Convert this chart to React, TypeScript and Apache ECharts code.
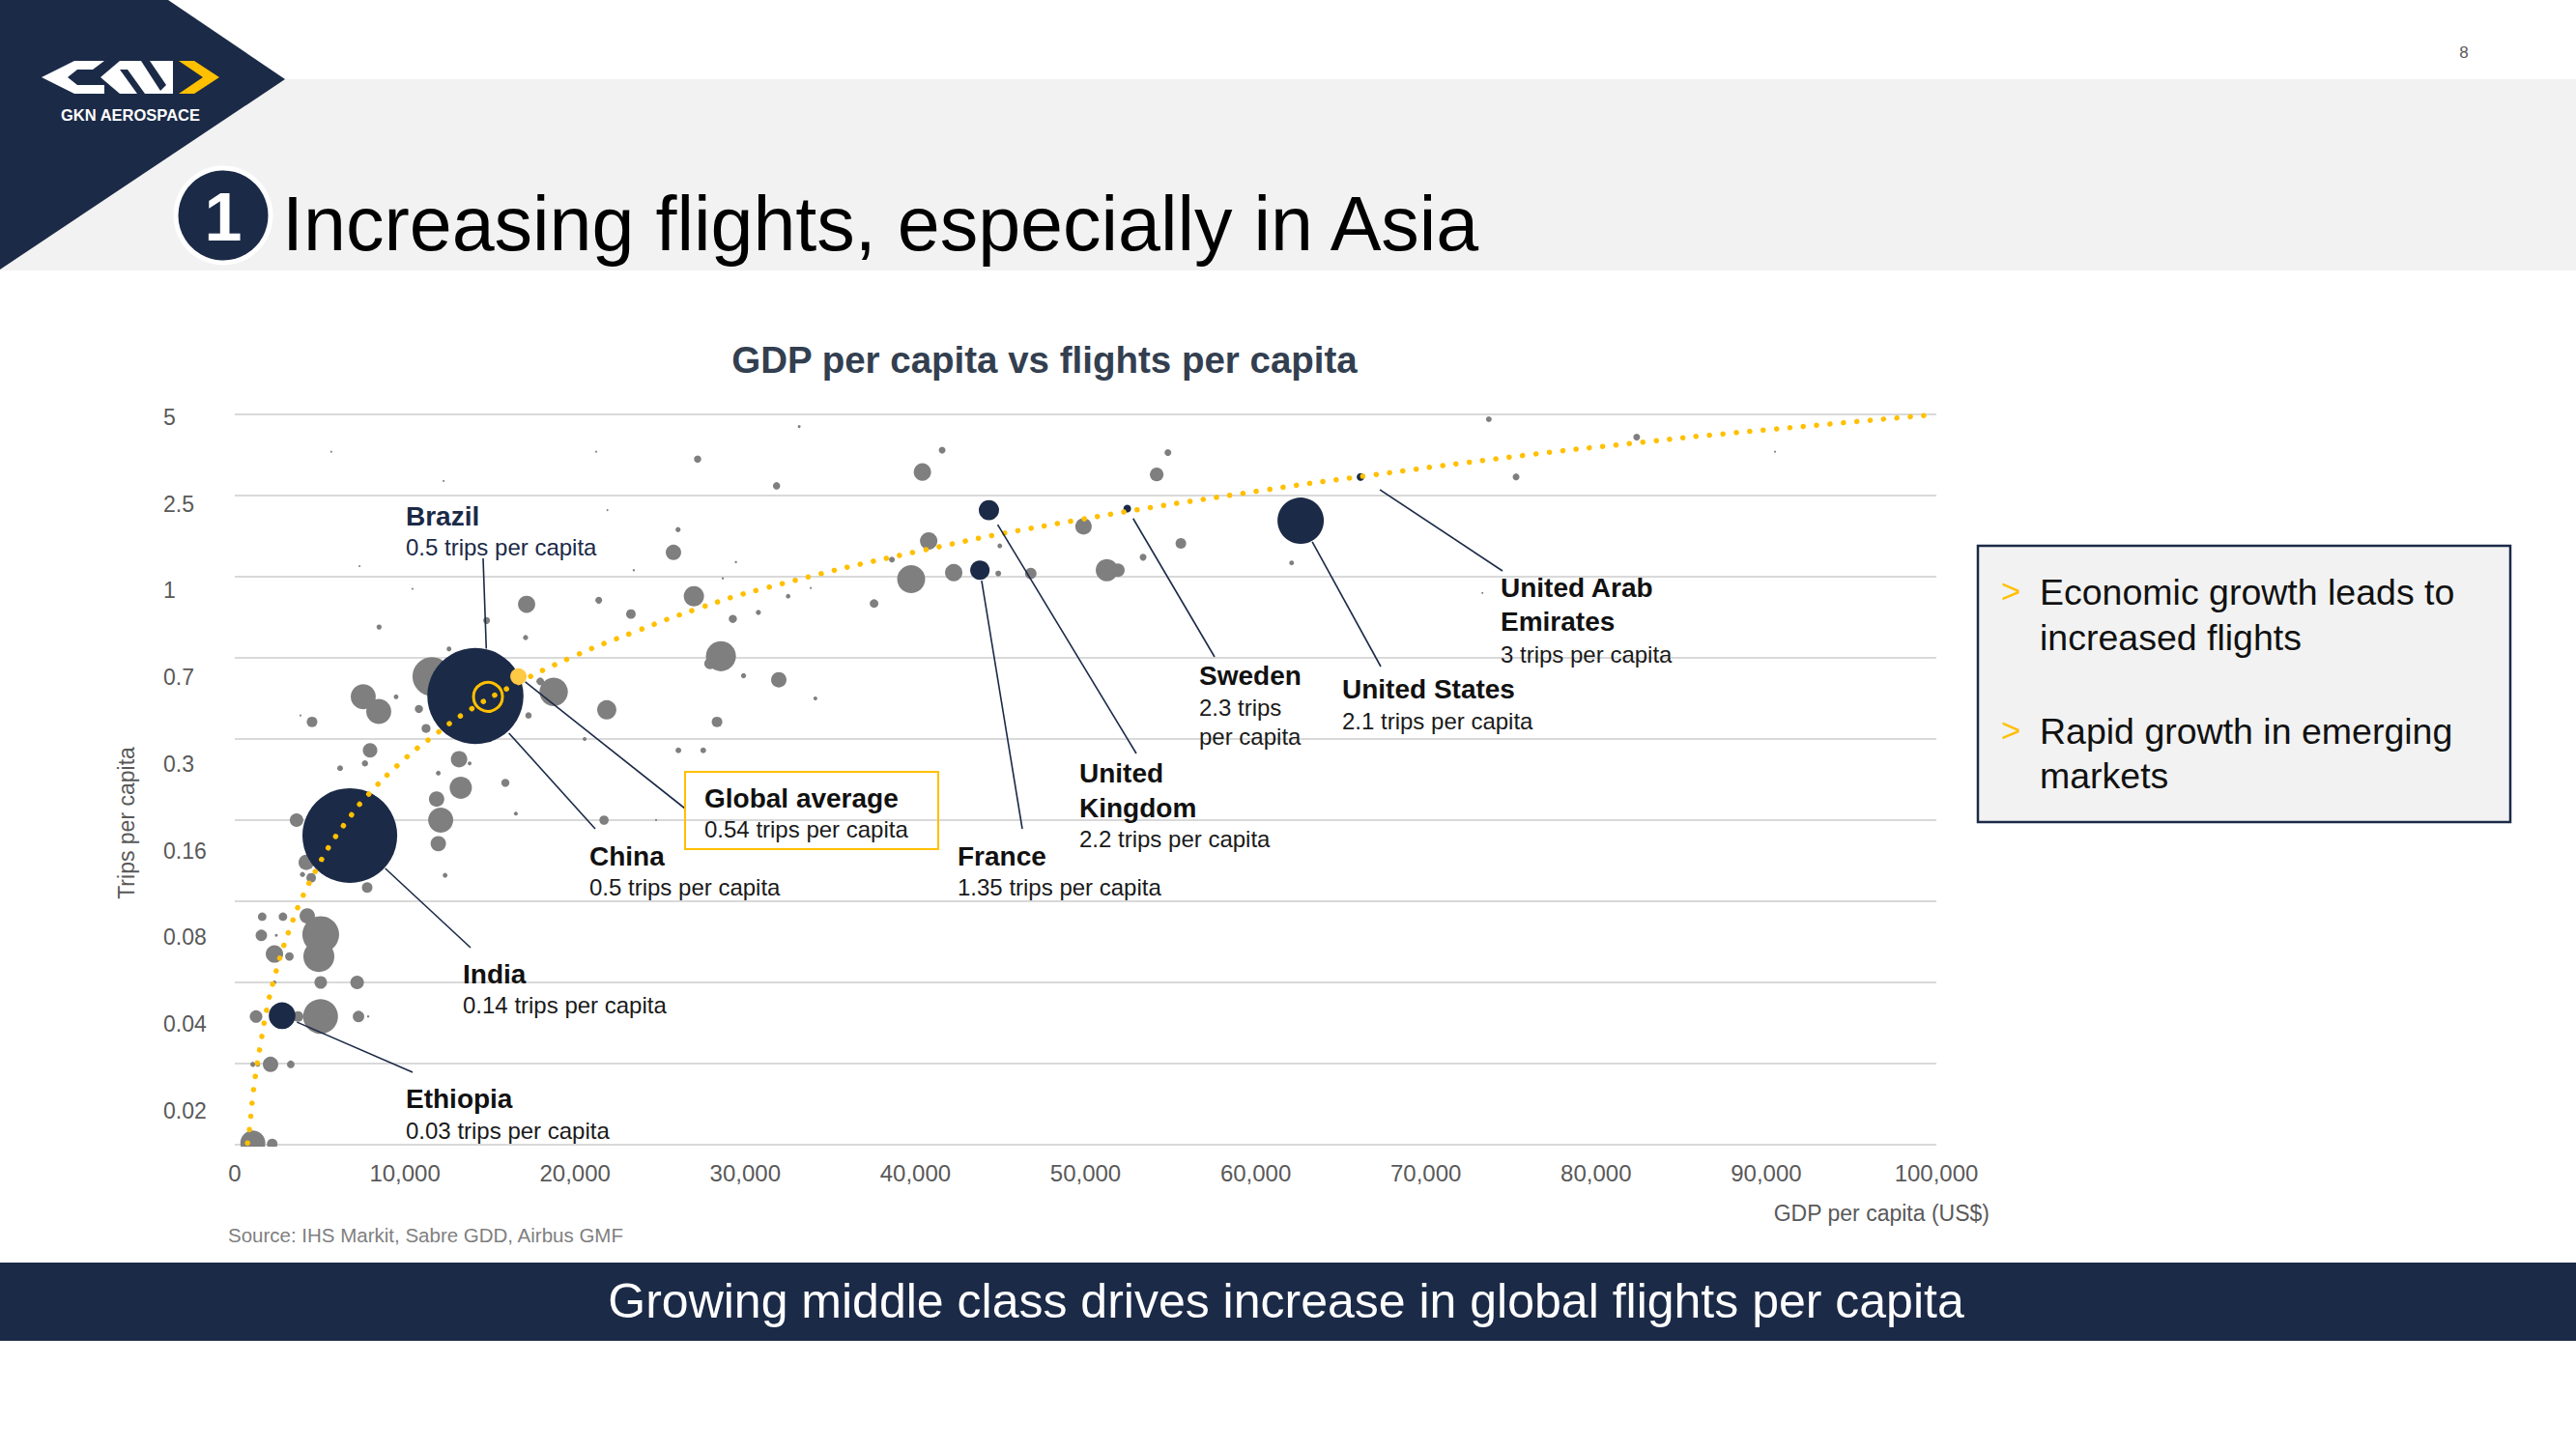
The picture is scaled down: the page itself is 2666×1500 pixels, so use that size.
import React, { useEffect, useRef } from 'react';
import * as echarts from 'echarts';

const FONT = '"Liberation Sans", Arial, Helvetica, sans-serif';
const NAVY = '#1b2a47';
const GRAY = '#7f7f7f';
const YELLOW = '#ffc000';
const AXIS_TEXT = '#595959';

// ---- axes ----
const xTickValues = [0, 10000, 20000, 30000, 40000, 50000, 60000, 70000, 80000, 90000, 100000];
// tick labels of the (non-linear) trips-per-capita scale, bottom to top
const yTickLabels = ['0.02', '0.04', '0.08', '0.16', '0.3', '0.7', '1', '2.5', '5'];

// ---- other countries (grey bubbles): GDP per capita, position on trips scale (gridline units), population (m) ----
const otherGdp = [
  5670, 21240, 12270, 27200, 31840, 33170, 21900, 26050, 25780, 29450,
  23450, 7330, 28680, 26980, 21390, 17150, 23280, 32520, 30770, 29270,
  14800, 8480, 17090, 28570, 27930, 29900, 31970, 34120, 11580, 18740,
  17950, 7550, 8460, 9480, 4540, 10820, 12590, 17260, 21860, 28340,
  20560, 11240, 7950, 13180, 13800, 26070, 27530, 6190, 7650, 11960,
  13280, 15900, 11860, 12100, 11960, 16520, 21700, 24760, 3630, 3860,
  10440, 4200, 3980, 4490, 7780, 12360, 1610, 2830, 4260, 5050,
  4940, 1560, 2440, 2330, 3210, 5050, 7190, 2330, 1250, 3720,
  5040, 7270, 7840, 1060, 1350, 2100, 3290, 1060, 2200, 41570,
  40410, 54840, 54180, 73700, 75300, 49880, 40780, 44960, 38620, 55600,
  53380, 39750, 42250, 44870, 46780, 51250, 51900, 62110, 33850, 37570,
  82390, 90520, 73320,
];
const otherLevel = [
  8.54, 8.54, 8.18, 8.45, 8.12, 8.85, 7.82, 7.58, 7.30, 7.18,
  7.08, 7.13, 6.98, 6.76, 6.71, 6.66, 6.54, 6.76, 6.56, 6.48,
  6.46, 6.38, 6.25, 6.02, 5.93, 5.78, 5.73, 5.50, 5.77, 5.58,
  5.71, 5.52, 5.34, 5.52, 5.21, 5.37, 6.11, 5.29, 5.36, 5.21,
  5.00, 5.13, 4.86, 4.75, 4.70, 4.86, 4.86, 4.64, 4.70, 4.58,
  4.40, 4.46, 4.26, 4.00, 3.71, 4.08, 4.00, 4.00, 4.00, 5.29,
  6.85, 3.48, 3.33, 3.29, 3.17, 3.32, 2.81, 2.81, 2.82, 2.59,
  2.32, 2.58, 2.58, 2.35, 2.32, 2.00, 2.00, 2.00, 1.58, 1.58,
  1.58, 1.58, 1.58, 0.99, 0.99, 0.99, 0.99, 0.02, 0.01, 8.56,
  8.29, 8.53, 8.26, 8.94, 8.23, 7.62, 7.44, 7.38, 7.21, 7.41,
  7.24, 6.97, 7.05, 7.04, 7.04, 7.08, 7.08, 7.17, 6.86, 6.67,
  8.72, 8.54, 6.80,
];
const otherPop = [
  0.6, 0.6, 0.6, 8, 8, 1.3, 0.6, 4, 36, 0.8,
  0.8, 0.6, 0.8, 62, 7, 45, 14, 3, 4, 10,
  7, 4, 4, 137, 20, 4, 36, 2.3, 226, 122,
  9, 95, 95, 3.5, 17, 10, 3.5, 6, 56, 17,
  2.3, 12, 32, 41, 2.3, 5, 5, 5, 6, 3.5,
  75, 10, 36, 95, 36, 2.3, 13, 0.6, 28, 0.6,
  0.6, 36, 4, 14, 17, 3.5, 11, 11, 36, 204,
  145, 20, 1.3, 46, 11, 24, 28, 2.3, 24, 17,
  183, 20, 0.8, 4, 3.5, 36, 9, 95, 17, 7,
  46, 7, 28, 5, 7, 41, 46, 3.5, 5, 17,
  7, 119, 46, 5, 20, 75, 28, 3.5, 0.6, 11,
  7, 0.6, 0.6,
];

// ---- highlighted countries ----
const focusCountries = ['Ethiopia', 'India', 'China', 'France', 'United Kingdom', 'Sweden', 'United States', 'United Arab Emirates'];
const focusGdp = [2780, 6760, 14140, 43790, 44320, 52450, 62640, 66160];
const focusLevel = [1.59, 3.81, 5.53, 7.08, 7.82, 7.84, 7.69, 8.23];
const focusPop = [108, 1360, 1400, 57, 62, 9, 325, 9];

const brazilPoint = [14880, 5.52];
const globalPoint = [16670, 5.77];

// ---- trend line ----
const trendGdp = [750, 850, 1060, 1250, 1560, 1930, 2330, 2780, 3300, 3840, 4860, 5680, 6630, 7650, 9800, 11630, 13600, 16270, 19820, 23490, 27250, 31000, 40320, 49580, 60590, 66390, 75960, 82390, 86950, 100000];
const trendLevel = [0.02, 0.17, 0.6, 0.9, 1.3, 1.72, 2.06, 2.39, 2.7, 2.99, 3.42, 3.72, 4.0, 4.27, 4.72, 5.03, 5.33, 5.65, 6.01, 6.32, 6.61, 6.85, 7.32, 7.7, 8.07, 8.24, 8.5, 8.65, 8.75, 9.0];

const radiusOf = (pop: number) => Math.max(1, 1.33 * Math.sqrt(pop));
const fmtThousands = (v: number) => String(v).replace(/\B(?=(\d{3})+(?!\d))/g, ',');

type Row = [string, boolean, number];
type Ann = { pt: number[]; gap: number; end: [number, number]; x: number; rows: Row[]; color: string; box?: [number, number, number, number] };

const txt = (x: number, y: number, text: string, font: string, fill: string, align = 'left', extra: any = {}) => ({
  type: 'text',
  x,
  y,
  ...extra,
  style: { text, font, fill, align, verticalAlign: 'middle', textAlign: align, textVerticalAlign: 'middle' },
});

export default function App() {
  const ref = useRef<HTMLDivElement>(null);

  useEffect(() => {
    const chart = echarts.init(ref.current!, null, { renderer: 'svg', width: 2666, height: 1500 });

    const option: any = {
      animation: false,
      backgroundColor: '#ffffff',
      grid: { left: 243, right: 662, top: 429, bottom: 315, containLabel: false },
      xAxis: {
        type: 'value',
        min: xTickValues[0],
        max: xTickValues[xTickValues.length - 1],
        interval: 10000,
        axisLine: { show: false },
        axisTick: { show: false },
        splitLine: { show: false },
        axisLabel: { color: AXIS_TEXT, fontSize: 24, fontFamily: FONT, margin: 17, formatter: (v: number) => fmtThousands(v) },
      },
      yAxis: [
        {
          type: 'value',
          min: 0,
          max: 9,
          interval: 1,
          axisLine: { show: false },
          axisTick: { show: false },
          axisLabel: { show: false },
          splitLine: { show: true, lineStyle: { color: '#d9d9d9', width: 2 } },
        },
        {
          type: 'value',
          position: 'left',
          min: -0.39,
          max: 8.033,
          axisLine: { show: false },
          axisTick: { show: false },
          splitLine: { show: false },
          axisLabel: {
            customValues: yTickLabels.map((_, i) => i),
            formatter: (v: number) => {
              const i = Math.round(v);
              return Math.abs(v - i) < 1e-6 && yTickLabels[i] !== undefined ? yTickLabels[i] : '';
            },
            align: 'left',
            margin: 74,
            color: AXIS_TEXT,
            fontSize: 23,
            fontFamily: FONT,
          },
        },
      ],
      series: [
        {
          type: 'scatter',
          name: 'Other countries',
          z: 2,
          silent: true,
          data: otherGdp.map((g, i) => [g, otherLevel[i], otherPop[i]]),
          symbolSize: (v: number[]) => 2 * radiusOf(v[2]),
          itemStyle: { color: GRAY, opacity: 1 },
        },
        {
          type: 'scatter',
          name: 'Highlighted',
          z: 3,
          silent: true,
          data: focusGdp.map((g, i) => ({ name: focusCountries[i], value: [g, focusLevel[i], focusPop[i]] })),
          symbolSize: (v: number[]) => 2 * radiusOf(v[2]),
          itemStyle: { color: NAVY, opacity: 1 },
        },
        {
          type: 'line',
          name: 'Trend',
          z: 4,
          silent: true,
          showSymbol: false,
          smooth: 0.5,
          data: trendGdp.map((g, i) => [g, trendLevel[i]]),
          lineStyle: { color: YELLOW, width: 5.5, type: [0.1, 13.8], cap: 'round' },
        },
        {
          type: 'scatter',
          name: 'Brazil',
          z: 5,
          silent: true,
          data: [brazilPoint],
          symbolSize: 30,
          itemStyle: { color: 'rgba(0,0,0,0)', borderColor: YELLOW, borderWidth: 3, opacity: 1 },
        },
        {
          type: 'scatter',
          name: 'Global average',
          z: 5,
          silent: true,
          data: [globalPoint],
          symbolSize: 17,
          itemStyle: { color: '#ffc845', opacity: 1 },
        },
      ],
    };
    chart.setOption(option);

    const toPx = (p: number[]) => chart.convertToPixel({ seriesIndex: 0 }, p) as number[];
    const fr = (i: number) => radiusOf(focusPop[i]);
    const fp = (i: number) => [focusGdp[i], focusLevel[i]];

    const anns: Ann[] = [
      { pt: brazilPoint, gap: fr(2), end: [500, 578], x: 420, rows: [['Brazil', true, 534], ['0.5 trips per capita', false, 566]], color: NAVY },
      { pt: fp(2), gap: fr(2) + 2, end: [616, 858], x: 610, rows: [['China', true, 886], ['0.5 trips per capita', false, 918]], color: '#111111' },
      { pt: globalPoint, gap: 9, end: [709, 837], x: 729, rows: [['Global average', true, 826], ['0.54 trips per capita', false, 858]], color: '#111111', box: [709, 799, 262, 80] },
      { pt: fp(1), gap: fr(1) + 1, end: [487, 981], x: 479, rows: [['India', true, 1008], ['0.14 trips per capita', false, 1040]], color: '#111111' },
      { pt: fp(0), gap: fr(0) + 3, end: [427, 1110], x: 420, rows: [['Ethiopia', true, 1137], ['0.03 trips per capita', false, 1170]], color: '#111111' },
      { pt: fp(3), gap: fr(3) + 1, end: [1058, 858], x: 991, rows: [['France', true, 886], ['1.35 trips per capita', false, 918]], color: '#111111' },
      { pt: fp(4), gap: fr(4) + 7, end: [1176, 780], x: 1117, rows: [['United', true, 800], ['Kingdom', true, 836], ['2.2 trips per capita', false, 868]], color: '#111111' },
      { pt: fp(5), gap: fr(5) + 8, end: [1257, 680], x: 1241, rows: [['Sweden', true, 699], ['2.3 trips', false, 732], ['per capita', false, 762]], color: '#111111' },
      { pt: fp(6), gap: fr(6) + 1, end: [1429, 690], x: 1389, rows: [['United States', true, 713], ['2.1 trips per capita', false, 746]], color: '#111111' },
      { pt: fp(7), gap: fr(7) + 20, end: [1555, 591], x: 1553, rows: [['United Arab', true, 608], ['Emirates', true, 643], ['3 trips per capita', false, 677]], color: '#111111' },
    ];

    const annGraphics: any[] = [];
    anns.forEach((a) => {
      const [px, py] = toPx(a.pt);
      const dx = a.end[0] - px;
      const dy = a.end[1] - py;
      const d = Math.sqrt(dx * dx + dy * dy) || 1;
      annGraphics.push({
        type: 'line',
        z: 50,
        silent: true,
        shape: { x1: px + (dx / d) * a.gap, y1: py + (dy / d) * a.gap, x2: a.end[0], y2: a.end[1] },
        style: { stroke: NAVY, lineWidth: 1.6 },
      });
      if (a.box) {
        annGraphics.push({
          type: 'rect',
          z: 50,
          silent: true,
          shape: { x: a.box[0], y: a.box[1], width: a.box[2], height: a.box[3] },
          style: { fill: 'rgba(0,0,0,0)', stroke: YELLOW, lineWidth: 2 },
        });
      }
      a.rows.forEach(([t, bold, y]) => {
        annGraphics.push({
          ...txt(a.x, y, t, bold ? `bold 28px ${FONT}` : `24px ${FONT}`, bold ? a.color : a.color === NAVY ? NAVY : '#1a1a1a'),
          z: 51,
          silent: true,
        });
      });
    });

    const staticGraphics: any[] = [
      { type: 'rect', z: 0, shape: { x: 0, y: 82, width: 2666, height: 198 }, style: { fill: '#f2f2f2' } },
      { type: 'polygon', z: 1, shape: { points: [[0, 0], [174, 0], [295, 82], [0, 279]] }, style: { fill: NAVY } },
      // logo
      { type: 'polygon', z: 2, shape: { points: [[43, 80], [77, 63], [108, 63], [96, 72], [80, 72], [70, 80], [80, 88], [108, 88], [108, 97], [77, 97]] }, style: { fill: '#ffffff' } },
      { type: 'polygon', z: 2, shape: { points: [[104, 80], [124, 63], [179, 63], [179, 97], [124, 97]] }, style: { fill: '#ffffff' } },
      { type: 'polygon', z: 3, shape: { points: [[124, 72], [132, 72], [150, 97], [142, 97]] }, style: { fill: NAVY } },
      { type: 'polygon', z: 3, shape: { points: [[146, 63], [155, 63], [172, 88], [166, 94]] }, style: { fill: NAVY } },
      { type: 'polygon', z: 2, shape: { points: [[185, 63], [201, 63], [227, 80], [201, 97], [185, 97], [210, 80]] }, style: { fill: YELLOW } },
      txt(135, 119, 'GKN AEROSPACE', `bold 16.5px ${FONT}`, '#ffffff', 'center', { z: 2 }),
      // section number
      { type: 'circle', z: 2, shape: { cx: 231, cy: 223, r: 49 }, style: { fill: NAVY, stroke: '#ffffff', lineWidth: 5 } },
      txt(231, 225, '1', `bold 70px ${FONT}`, '#ffffff', 'center', { z: 3 }),
      txt(292, 231, 'Increasing flights, especially in Asia', `79px ${FONT}`, '#000000', 'left', { z: 2 }),
      txt(2550, 54, '8', `17px ${FONT}`, AXIS_TEXT, 'center'),
      // chart titles
      txt(1081, 372, 'GDP per capita vs flights per capita', `bold 38.5px ${FONT}`, '#333f50', 'center'),
      txt(131, 852, 'Trips per capita', `23px ${FONT}`, AXIS_TEXT, 'center', { rotation: Math.PI / 2 }),
      txt(2059, 1256, 'GDP per capita (US$)', `23px ${FONT}`, AXIS_TEXT, 'right'),
      txt(236, 1278, 'Source: IHS Markit, Sabre GDD, Airbus GMF', `20.5px ${FONT}`, '#7f7f7f', 'left'),
      // mask under plot bottom (bubbles are cut at the baseline)
      { type: 'rect', z: 100, silent: true, shape: { x: 230, y: 1187, width: 200, height: 13 }, style: { fill: '#ffffff' } },
      // bottom banner
      { type: 'rect', z: 1, shape: { x: 0, y: 1307, width: 2666, height: 81 }, style: { fill: NAVY } },
      txt(1331, 1347, 'Growing middle class drives increase in global flights per capita', `50px ${FONT}`, '#ffffff', 'center', { z: 2 }),
      // right box
      { type: 'rect', z: 1, shape: { x: 2047, y: 565, width: 551, height: 286 }, style: { fill: '#f2f2f2', stroke: NAVY, lineWidth: 2.5 } },
      txt(2071, 611, '>', `35px ${FONT}`, YELLOW, 'left', { z: 2 }),
      txt(2111, 613, 'Economic growth leads to', `37.5px ${FONT}`, '#111111', 'left', { z: 2 }),
      txt(2111, 660, 'increased flights', `37.5px ${FONT}`, '#111111', 'left', { z: 2 }),
      txt(2071, 755, '>', `35px ${FONT}`, YELLOW, 'left', { z: 2 }),
      txt(2111, 757, 'Rapid growth in emerging', `37.5px ${FONT}`, '#111111', 'left', { z: 2 }),
      txt(2111, 803, 'markets', `37.5px ${FONT}`, '#111111', 'left', { z: 2 }),
    ];

    chart.setOption({ graphic: { elements: [...staticGraphics, ...annGraphics] } });

    return () => {
      chart.dispose();
    };
  }, []);

  return (
    <div
      ref={ref}
      style={{ position: 'fixed', left: 0, top: 0, width: 2666, height: 1500, background: '#ffffff' }}
    />
  );
}
